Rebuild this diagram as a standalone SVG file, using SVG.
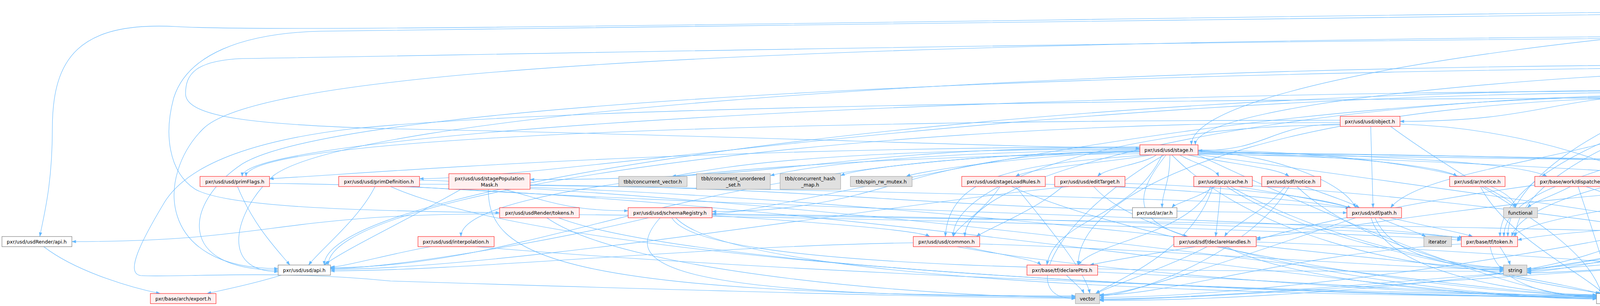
<svg xmlns="http://www.w3.org/2000/svg" width="6657" height="784" viewBox="0 0 6657 784">
<style>
.r{fill:#fff0f0;stroke:#ff0000;stroke-width:1}
.w{fill:#ffffff;stroke:#666666;stroke-width:1}
.g{fill:#e0e0e0;stroke:#999999;stroke-width:1}
.root{fill:#999999;stroke:#666666;stroke-width:1}
text{font-family:"DejaVu Sans","Liberation Sans",sans-serif;font-size:12.5px;fill:#000;text-anchor:middle}
#edges path{fill:none;stroke:#63b8ff;stroke-width:1.1;marker-end:url(#a)}
</style>
<defs>
<marker id="a" markerUnits="userSpaceOnUse" markerWidth="11" markerHeight="8" refX="10.5" refY="4" orient="auto"><path d="M0,0 L11,4 L0,8 z" fill="#63b8ff"/></marker>
</defs>
<rect width="6657" height="784" fill="#ffffff"/>
<g id="edges">
<path d="M5790,31 L5790,78"/>
<path d="M5740,31 C5740,90 5320,95 5320,152"/>
<path d="M5696,22 C5092,22 5092,237 4488,237"/>
<path d="M5696,18 C4373,18 3050,195 3050,371"/>
<path d="M5696,16 C3500,30 800,90 450,68 C200,55 134,150 134,330 C134,480 110,560 102,606"/>
<path d="M5696,17 C3500,35 1300,70 820,80 C620,85 480,140 445,250 C420,340 430,440 500,485 C580,530 900,540 1279,545"/>
<path d="M5740,31 C5740,282 5180,282 5180,532"/>
<path d="M5884,22 C6350,40 6300,300 6262,532"/>
<path d="M5884,25 C6450,50 6420,420 6250,606"/>
<path d="M5884,28 C6560,60 6520,520 6215,679"/>
<path d="M5696,19 C4778,19 3860,312 3860,606"/>
<path d="M5696,21 C5278,21 4860,314 4860,606"/>
<path d="M5884,20 C6650,40 6650,690 6350,700 C5600,715 4700,768 4166,768"/>
<path d="M5715,86 C2500,90 700,150 520,330 C400,450 400,688 712,688"/>
<path d="M5715,93 C5160,93 5160,158 4612,158"/>
<path d="M5715,96 C5100,96 4900,232 4488,232"/>
<path d="M5715,90 C3500,92 1300,140 620,150 C500,155 475,190 475,240 C475,300 650,320 1000,330 C1800,345 2600,378 2918,380"/>
<path d="M5760,104 C5760,320 5170,320 5170,532"/>
<path d="M5866,95 C6200,110 6240,300 6235,532"/>
<path d="M5866,98 C6300,130 6340,420 6235,606"/>
<path d="M5866,101 C6420,160 6420,520 6200,679"/>
<path d="M5715,99 C4750,99 3840,350 3840,606"/>
<path d="M5790,104 C5790,400 4850,350 4850,606"/>
<path d="M5866,92 C6600,110 6600,700 6300,708 C5600,720 4700,765 4166,765"/>
<path d="M4480,178 C4480,201 4440,201 4440,225"/>
<path d="M4416,166 C2500,170 900,300 700,450 C600,540 560,696 712,696"/>
<path d="M4520,178 C4520,500 4150,500 4150,752"/>
<path d="M5173,160 C4830,160 4830,229 4488,229"/>
<path d="M5173,168 C3000,170 900,250 620,420 C470,520 450,692 712,692"/>
<path d="M5173,163 C4100,163 3060,260 3060,371"/>
<path d="M5310,178 C5470,240 5480,330 5300,345 C5100,360 4950,340 4960,420 C4965,470 5030,500 5070,532"/>
<path d="M5370,166 C5900,180 6100,300 6190,532"/>
<path d="M5370,170 C5950,200 6170,400 6185,606"/>
<path d="M5370,174 C5900,230 6150,450 6130,679"/>
<path d="M5173,172 C4500,172 3880,400 3880,606"/>
<path d="M5190,178 C4800,260 4672,280 4672,350 C4672,450 4760,540 4800,606"/>
<path d="M5360,178 C5560,300 5520,690 5200,710 C4800,730 4400,770 4166,770"/>
<path d="M4345,240 C3965,240 3965,311 3584,311"/>
<path d="M4345,233 C2483,233 620,343 620,452"/>
<path d="M4345,236 C2700,236 1500,452 1074,458"/>
<path d="M4345,245 C3000,245 2000,548 1823,548"/>
<path d="M4345,242 C3400,242 2470,420 2470,606"/>
<path d="M4345,230 C2600,230 830,470 830,679"/>
<path d="M4488,244 C5200,250 5690,270 5700,371"/>
<path d="M4345,248 C3400,248 2760,450 2760,679"/>
<path d="M4488,238 C4900,238 4900,306 5268,306"/>
<path d="M4380,251 C4380,430 3850,430 3850,606"/>
<path d="M4470,251 C4700,300 5200,400 5375,452"/>
<path d="M4400,251 C4200,400 3650,420 3560,532"/>
<path d="M4440,251 C4600,300 4900,340 5010,371"/>
<path d="M4425,251 C4430,450 4300,620 3909,690"/>
<path d="M4455,251 C4460,450 4495,600 4500,679"/>
<path d="M4345,250 C3000,255 1500,270 900,330 C650,360 480,420 420,520 C360,620 320,700 360,706 C450,712 700,690 1000,720 C1800,745 2500,764 2753,764"/>
<path d="M4410,251 C4400,500 4160,600 4150,752"/>
<path d="M3431,314 C2100,314 840,500 840,679"/>
<path d="M3431,320 C2900,320 2440,460 2440,606"/>
<path d="M3431,308 C2000,308 630,350 630,452"/>
<path d="M3431,318 C3250,318 3250,386 3067,386"/>
<path d="M3509,324 L3515,532"/>
<path d="M3584,318 C4000,330 4400,500 4480,679"/>
<path d="M3560,324 C3800,500 4050,600 4100,752"/>
<path d="M2918,390 C1800,390 1400,686 846,686"/>
<path d="M2940,397 C2600,420 2430,450 2420,606"/>
<path d="M2960,397 C2930,420 2830,430 2810,452"/>
<path d="M2918,394 C2000,400 1180,480 1180,606"/>
<path d="M2918,388 C2300,388 2300,542 1823,542"/>
<path d="M2950,397 C2800,420 2640,430 2600,452"/>
<path d="M2918,378 C2100,378 2100,460 1357,460"/>
<path d="M2918,376 C1700,380 1000,440 690,458"/>
<path d="M2975,397 C2900,560 2700,560 2680,679"/>
<path d="M3067,392 C4000,400 4900,420 5050,452"/>
<path d="M3067,395 C4200,410 5200,420 5340,452"/>
<path d="M2995,397 C2995,470 2975,490 2975,532"/>
<path d="M3067,388 C3500,400 3700,430 3730,452"/>
<path d="M2985,397 C2920,480 2880,560 3040,606"/>
<path d="M3040,397 C3150,420 3270,430 3300,452"/>
<path d="M3067,386 C3300,400 3450,480 3470,532"/>
<path d="M3067,390 C4000,400 4600,420 4740,452"/>
<path d="M3020,397 C3060,420 3110,430 3120,452"/>
<path d="M3067,393 C4000,420 4900,480 5060,532"/>
<path d="M3067,387 C3600,400 3900,420 3960,452"/>
<path d="M2918,382 C2000,382 1800,440 1720,452"/>
<path d="M2918,384 C2300,390 2050,430 1972,450"/>
<path d="M2918,386 C2500,395 2200,430 2152,450"/>
<path d="M2918,388 C2600,400 2350,440 2320,452"/>
<path d="M3067,384 C3500,390 3870,450 3880,532"/>
<path d="M3000,397 C3200,600 3600,690 3849,692"/>
<path d="M3067,396 C3800,500 4600,600 4720,679"/>
<path d="M2980,397 C2700,560 2600,765 2753,765"/>
<path d="M3067,397 C3500,600 3900,762 4087,762"/>
<path d="M5020,397 C4950,420 4850,430 4830,452"/>
<path d="M5075,397 C5090,420 5100,430 5105,452"/>
<path d="M5120,397 C5200,420 5350,430 5370,452"/>
<path d="M5048,397 C5000,470 5050,500 5080,532"/>
<path d="M5110,397 C5180,450 5170,590 4888,618"/>
<path d="M4980,384 C4300,400 3900,500 3870,606"/>
<path d="M4980,390 C4000,420 3400,560 3216,615"/>
<path d="M4990,397 C4600,600 4000,680 3909,694"/>
<path d="M4985,397 C4200,650 3200,762 2815,762"/>
<path d="M5060,397 C5080,600 4500,760 4166,760"/>
<path d="M5375,324 C5700,520 5700,700 5300,715 C4800,735 4400,771 4166,771"/>
<path d="M5750,397 C5810,520 5760,700 5450,716 C5000,735 4500,766 4166,766"/>
<path d="M608,478 C650,580 710,640 742,679"/>
<path d="M690,470 C2000,480 3500,766 4087,766"/>
<path d="M960,478 C920,560 820,640 790,679"/>
<path d="M1074,462 C1350,462 1350,540 1608,540"/>
<path d="M1074,472 C2260,472 2260,545 3448,545"/>
<path d="M1050,478 C2000,540 3500,560 3741,612"/>
<path d="M1000,478 C1500,700 3500,760 4087,760"/>
<path d="M1180,485 C1050,560 880,640 830,679"/>
<path d="M1357,475 C2400,490 3300,520 3455,533"/>
<path d="M1250,485 C1250,650 1400,758 2753,758"/>
<path d="M1357,480 C2500,520 3600,688 3849,688"/>
<path d="M1357,483 C2600,560 3800,758 4087,758"/>
<path d="M2560,478 C2520,540 2450,580 2440,606"/>
<path d="M2676,472 C3000,480 3300,510 3460,533"/>
<path d="M2590,478 C2900,620 3700,756 4087,756"/>
<path d="M2600,478 C2700,600 2780,700 2790,752"/>
<path d="M2736,478 C2300,520 1300,690 846,690"/>
<path d="M2720,478 C2650,540 2520,590 2500,606"/>
<path d="M2880,470 C3200,480 3400,510 3460,534"/>
<path d="M2800,478 C2950,650 3700,764 4087,764"/>
<path d="M3110,478 C3060,510 3010,520 3000,532"/>
<path d="M3125,478 C3120,540 3115,580 3112,606"/>
<path d="M3099,478 C3050,600 2800,620 2760,679"/>
<path d="M3105,478 C3050,650 2850,720 2805,752"/>
<path d="M3170,478 C3300,500 3420,520 3460,533"/>
<path d="M3206,476 C3900,520 4600,640 4710,679"/>
<path d="M3150,478 C3400,620 3750,686 3849,686"/>
<path d="M3140,478 C3400,650 3900,700 4095,752"/>
<path d="M3290,478 C3240,540 3150,580 3135,606"/>
<path d="M3340,478 C3400,500 3460,520 3480,532"/>
<path d="M3300,478 C3200,650 2900,758 2815,758"/>
<path d="M3320,478 C3500,650 3900,720 4100,752"/>
<path d="M3800,478 C3840,500 3870,515 3880,532"/>
<path d="M3790,478 C3850,600 4050,700 4105,752"/>
<path d="M4020,478 C3980,500 3930,515 3910,532"/>
<path d="M4040,478 C4080,600 4115,700 4120,752"/>
<path d="M4060,478 C4300,560 4450,640 4480,679"/>
<path d="M4840,478 C4950,500 5050,515 5080,532"/>
<path d="M4790,478 C4800,540 4810,580 4815,606"/>
<path d="M4708,470 C4300,500 3900,560 3875,606"/>
<path d="M4708,466 C4000,480 3500,580 3216,610"/>
<path d="M4740,478 C4500,600 4000,697 3909,697"/>
<path d="M4730,478 C4300,700 3300,770 2815,770"/>
<path d="M4760,478 C4700,580 4560,650 4540,679"/>
<path d="M4775,478 C4770,580 4755,640 4750,679"/>
<path d="M4855,462 C5600,470 6000,540 6131,540"/>
<path d="M4855,470 C5600,520 6000,614 6133,614"/>
<path d="M4855,475 C5400,560 5900,692 6081,692"/>
<path d="M4770,478 C4700,650 4400,764 4166,764"/>
<path d="M5146,478 C5250,650 4700,773 4166,773"/>
<path d="M5400,478 C5250,680 4600,775 4166,775"/>
<path d="M5100,558 C5000,580 4900,595 4870,606"/>
<path d="M5052,545 C4500,560 4000,590 3885,615"/>
<path d="M5070,558 C4700,640 4100,699 3909,699"/>
<path d="M5060,558 C4800,620 4600,690 4556,690"/>
<path d="M5080,558 C4950,620 4820,688 4782,688"/>
<path d="M5120,558 C5000,700 4500,767 4166,767"/>
<path d="M6220,558 C6215,580 6212,590 6210,606"/>
<path d="M6131,555 C5000,620 3200,768 2815,768"/>
<path d="M6240,558 C6300,650 6200,720 5800,730 C5200,745 4500,770 4166,770"/>
<path d="M6175,632 C6160,650 6140,665 6130,679"/>
<path d="M6240,632 C6290,700 6100,735 5700,740 C5200,750 4500,772 4166,772"/>
<path d="M6150,679 C6165,665 6180,650 6190,632"/>
<path d="M6081,700 C5500,720 4600,768 4166,768"/>
<path d="M1279,548 C700,548 700,619 184,619"/>
<path d="M1483,550 C2500,560 3500,600 3741,615"/>
<path d="M1400,558 C1600,700 2400,762 2753,762"/>
<path d="M1430,558 C1800,700 3500,762 4087,762"/>
<path d="M1660,558 C1400,620 1000,688 846,688"/>
<path d="M1823,552 C2100,570 2350,590 2380,606"/>
<path d="M1823,548 C2800,560 3500,590 3745,608"/>
<path d="M1823,550 C3000,570 4500,590 4751,615"/>
<path d="M1690,558 C1580,680 1700,760 2753,760"/>
<path d="M1720,558 C1800,700 3000,695 3849,695"/>
<path d="M1730,558 C1900,740 3500,760 4087,760"/>
<path d="M1102,632 C1000,650 880,684 846,684"/>
<path d="M1220,632 C2000,700 3500,756 4087,756"/>
<path d="M2338,622 C1800,630 1200,694 846,694"/>
<path d="M2470,632 C2550,650 2650,665 2665,679"/>
<path d="M2508,625 C3000,640 3600,690 3849,690"/>
<path d="M2450,632 C2800,700 3700,760 4087,760"/>
<path d="M3060,632 C2950,650 2830,670 2790,679"/>
<path d="M3090,632 C3000,680 2850,730 2805,752"/>
<path d="M3140,632 C3300,720 3800,764 4087,764"/>
<path d="M3216,620 C3800,640 4300,690 4464,690"/>
<path d="M2730,705 C2750,725 2770,740 2775,752"/>
<path d="M2810,697 C3300,720 3800,758 4087,758"/>
<path d="M3560,558 C3650,580 3740,595 3770,606"/>
<path d="M3530,558 C3580,580 3630,595 3650,606"/>
<path d="M3520,558 C3560,650 3700,685 3849,685"/>
<path d="M3470,558 C3200,650 2900,755 2815,755"/>
<path d="M3510,558 C3550,700 3900,755 4087,755"/>
<path d="M3840,632 C3850,650 3862,665 3866,679"/>
<path d="M3741,625 C3300,650 3000,756 2815,756"/>
<path d="M3815,632 C3830,720 3950,760 4087,760"/>
<path d="M4790,632 C4775,650 4760,665 4755,679"/>
<path d="M4760,632 C4650,650 4580,688 4556,688"/>
<path d="M4751,622 C4300,640 4000,688 3909,688"/>
<path d="M4751,628 C4000,680 3200,766 2815,766"/>
<path d="M4820,632 C4810,720 4400,762 4166,762"/>
<path d="M720,705 C640,730 560,745 530,752"/>
<path d="M112,632 C200,700 350,740 410,752"/>
</g>
<g id="n_pass"><rect class="root" x="5696" y="5" width="188" height="26"/><text x="5790" y="22.5">pxr/usd/usdRender/pass.h</text></g>
<g id="n_typed"><rect class="w" x="5715" y="78" width="151" height="26"/><text x="5790" y="95.5">pxr/usd/usd/typed.h</text></g>
<g id="n_schemaBase"><rect class="r" x="4416" y="152" width="196" height="26"/><text x="4514" y="169.5">pxr/usd/usd/schemaBase.h</text></g>
<g id="n_collectionAPI"><rect class="r" x="5173" y="152" width="197" height="26"/><text x="5271" y="169.5">pxr/usd/usd/collectionAPI.h</text></g>
<g id="n_prim"><rect class="w" x="4345" y="225" width="143" height="26"/><text x="4416" y="242.5">pxr/usd/usd/prim.h</text></g>
<g id="n_object"><rect class="r" x="3431" y="298" width="153" height="26"/><text x="3507" y="315.5">pxr/usd/usd/object.h</text></g>
<g id="n_refBase"><rect class="r" x="5268" y="298" width="158" height="26"/><text x="5347" y="315.5">pxr/base/tf/refBase.h</text></g>
<g id="n_stage"><rect class="r" x="2918" y="371" width="149" height="26"/><text x="2992" y="388.5">pxr/usd/usd/stage.h</text></g>
<g id="n_sdfSchema"><rect class="r" x="4980" y="371" width="162" height="26"/><text x="5061" y="388.5">pxr/usd/sdf/schema.h</text></g>
<g id="n_trace"><rect class="r" x="5639" y="371" width="164" height="26"/><text x="5721" y="388.5">pxr/base/trace/trace.h</text></g>
<g id="n_primFlags"><rect class="r" x="512" y="452" width="178" height="26"/><text x="601" y="469.5">pxr/usd/usd/primFlags.h</text></g>
<g id="n_primDefinition"><rect class="r" x="867" y="452" width="207" height="26"/><text x="970" y="469.5">pxr/usd/usd/primDefinition.h</text></g>
<g id="n_stagePopulationMask"><rect class="r" x="1149" y="445" width="208" height="40"/><text x="1253" y="461.5">pxr/usd/usd/stagePopulation</text><text x="1253" y="477.5">Mask.h</text></g>
<g id="n_concurrent_vector"><rect class="g" x="1584" y="452" width="175" height="26"/><text x="1671" y="469.5">tbb/concurrent_vector.h</text></g>
<g id="n_concurrent_unordered_set"><rect class="g" x="1783" y="445" width="189" height="40"/><text x="1877" y="461.5">tbb/concurrent_unordered</text><text x="1877" y="477.5">_set.h</text></g>
<g id="n_concurrent_hash_map"><rect class="g" x="1997" y="445" width="155" height="40"/><text x="2074" y="461.5">tbb/concurrent_hash</text><text x="2074" y="477.5">_map.h</text></g>
<g id="n_spin_rw_mutex"><rect class="g" x="2177" y="452" width="158" height="26"/><text x="2256" y="469.5">tbb/spin_rw_mutex.h</text></g>
<g id="n_stageLoadRules"><rect class="r" x="2462" y="452" width="214" height="26"/><text x="2569" y="469.5">pxr/usd/usd/stageLoadRules.h</text></g>
<g id="n_editTarget"><rect class="r" x="2700" y="452" width="180" height="26"/><text x="2790" y="469.5">pxr/usd/usd/editTarget.h</text></g>
<g id="n_pcpCache"><rect class="r" x="3056" y="452" width="150" height="26"/><text x="3131" y="469.5">pxr/usd/pcp/cache.h</text></g>
<g id="n_sdfNotice"><rect class="r" x="3230" y="452" width="151" height="26"/><text x="3305" y="469.5">pxr/usd/sdf/notice.h</text></g>
<g id="n_arNotice"><rect class="r" x="3711" y="452" width="142" height="26"/><text x="3782" y="469.5">pxr/usd/ar/notice.h</text></g>
<g id="n_dispatcher"><rect class="r" x="3929" y="452" width="197" height="26"/><text x="4027" y="469.5">pxr/base/work/dispatcher.h</text></g>
<g id="n_sdfTypes"><rect class="r" x="4708" y="452" width="147" height="26"/><text x="4781" y="469.5">pxr/usd/sdf/types.h</text></g>
<g id="n_hashmap"><rect class="r" x="5030" y="452" width="168" height="26"/><text x="5114" y="469.5">pxr/base/tf/hashmap.h</text></g>
<g id="n_weakBase"><rect class="r" x="5324" y="452" width="174" height="26"/><text x="5411" y="469.5">pxr/base/tf/weakBase.h</text></g>
<g id="n_renderTokens"><rect class="r" x="1279" y="532" width="204" height="26"/><text x="1381" y="549.5">pxr/usd/usdRender/tokens.h</text></g>
<g id="n_schemaRegistry"><rect class="r" x="1608" y="532" width="215" height="26"/><text x="1715" y="549.5">pxr/usd/usd/schemaRegistry.h</text></g>
<g id="n_arAr"><rect class="w" x="2899" y="532" width="114" height="26"/><text x="2956" y="549.5">pxr/usd/ar/ar.h</text></g>
<g id="n_sdfPath"><rect class="r" x="3448" y="532" width="140" height="26"/><text x="3518" y="549.5">pxr/usd/sdf/path.h</text></g>
<g id="n_functional"><rect class="g" x="3849" y="532" width="87" height="26"/><text x="3892" y="549.5">functional</text></g>
<g id="n_vtValue"><rect class="r" x="5052" y="532" width="146" height="26"/><text x="5125" y="549.5">pxr/base/vt/value.h</text></g>
<g id="n_matrix4d"><rect class="r" x="6131" y="532" width="171" height="26"/><text x="6216" y="549.5">pxr/base/gf/matrix4d.h</text></g>
<g id="n_renderApi"><rect class="w" x="5" y="606" width="179" height="26"/><text x="94" y="623.5">pxr/usd/usdRender/api.h</text></g>
<g id="n_interpolation"><rect class="r" x="1070" y="606" width="195" height="26"/><text x="1167" y="623.5">pxr/usd/usd/interpolation.h</text></g>
<g id="n_common"><rect class="r" x="2338" y="606" width="170" height="26"/><text x="2423" y="623.5">pxr/usd/usd/common.h</text></g>
<g id="n_declareHandles"><rect class="r" x="3005" y="606" width="211" height="26"/><text x="3110" y="623.5">pxr/usd/sdf/declareHandles.h</text></g>
<g id="n_iterator"><rect class="g" x="3645" y="606" width="71" height="26"/><text x="3680" y="623.5">iterator</text></g>
<g id="n_tfToken"><rect class="r" x="3741" y="606" width="144" height="26"/><text x="3813" y="623.5">pxr/base/tf/token.h</text></g>
<g id="n_tfType"><rect class="r" x="4751" y="606" width="137" height="26"/><text x="4819" y="623.5">pxr/base/tf/type.h</text></g>
<g id="n_vec3d"><rect class="r" x="6133" y="606" width="150" height="26"/><text x="6208" y="623.5">pxr/base/gf/vec3d.h</text></g>
<g id="n_usdApi"><rect class="w" x="712" y="679" width="134" height="26"/><text x="779" y="696.5">pxr/usd/usd/api.h</text></g>
<g id="n_declarePtrs"><rect class="r" x="2629" y="679" width="181" height="26"/><text x="2719" y="696.5">pxr/base/tf/declarePtrs.h</text></g>
<g id="n_string"><rect class="g" x="3849" y="679" width="60" height="26"/><text x="3879" y="696.5">string</text></g>
<g id="n_type_traits"><rect class="g" x="4464" y="679" width="92" height="26"/><text x="4510" y="696.5">type_traits</text></g>
<g id="n_memory"><rect class="g" x="4705" y="679" width="77" height="26"/><text x="4743" y="696.5">memory</text></g>
<g id="n_vec3f"><rect class="r" x="6081" y="679" width="146" height="26"/><text x="6154" y="696.5">pxr/base/gf/vec3f.h</text></g>
<g id="n_archExport"><rect class="r" x="385" y="752" width="168" height="26"/><text x="469" y="769.5">pxr/base/arch/export.h</text></g>
<g id="n_vector"><rect class="g" x="2753" y="752" width="62" height="26"/><text x="2784" y="769.5">vector</text></g>
<g id="n_pxr"><rect class="w" x="4087" y="752" width="79" height="26"/><text x="4126" y="769.5">pxr/pxr.h</text></g>
</svg>
